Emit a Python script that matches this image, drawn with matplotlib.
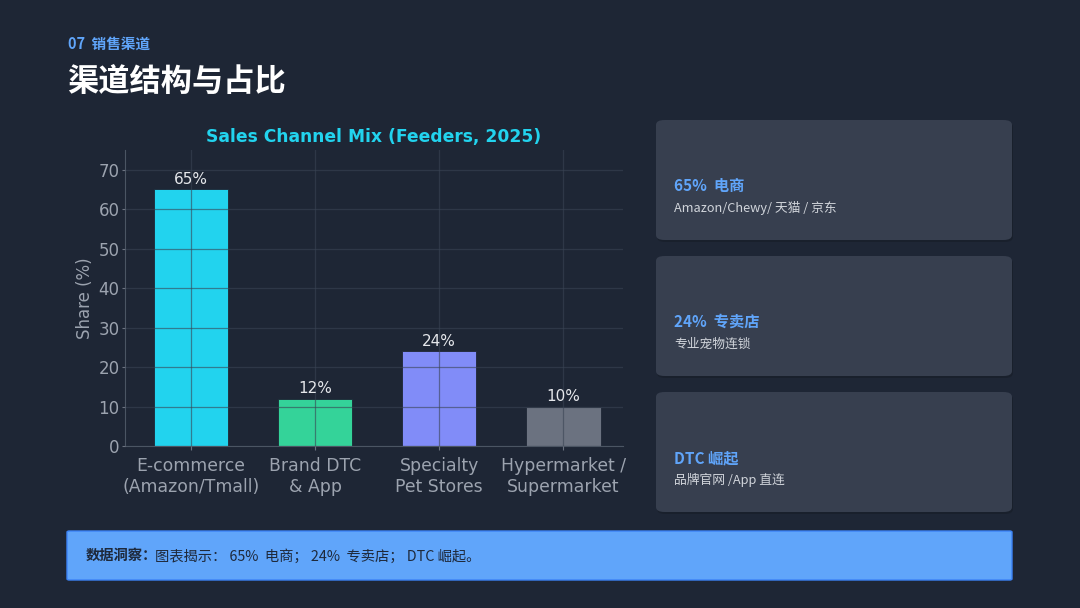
import matplotlib
matplotlib.use("Agg")
import matplotlib.pyplot as plt
from matplotlib.patches import FancyBboxPatch

plt.rcParams['font.family'] = ['DejaVu Sans', 'Noto Sans CJK SC']
CJK = ['Noto Sans CJK SC', 'DejaVu Sans']

channels = ['E-commerce\n(Amazon/Tmall)', 'Brand DTC\n& App', 'Specialty\nPet Stores', 'Hypermarket /\nSupermarket']
shares = [65, 12, 24, 10]
bar_colors = ['#22d3ee', '#34d399', '#818cf8', '#6b7280']

section = '07  销售渠道'
page_title = '渠道结构与占比'
chart_title = 'Sales Channel Mix (Feeders, 2025)'
card_heads = ['65%  电商', '24%  专卖店', 'DTC 崛起']
card_subs = ['Amazon/Chewy/ 天猫 / 京东', '专业宠物连锁', '品牌官网 /App 直连']
insight_head = '数据洞察：'
insight_body = '图表揭示： 65%  电商； 24%  专卖店； DTC 崛起。'

BG = '#1e2635'
W, H = 1080, 608
fig = plt.figure(figsize=(W / 100, H / 100), dpi=100, facecolor=BG)

def fx(px):
    return px / W

def fy(py):
    return 1 - py / H

# header
fig.text(fx(68), fy(44), section, color='#60a5fa', fontsize=10.5, fontweight='bold',
         family=CJK, va='center', ha='left')
fig.text(fx(67), fy(82), page_title, color='white', fontsize=22.5, fontweight='bold',
         family=CJK, va='center', ha='left')

# chart
ax = fig.add_axes([fx(125), fy(446), fx(623) - fx(125), fy(150) - fy(446)])
ax.set_facecolor(BG)
x = range(len(channels))
bars = ax.bar(x, shares, width=0.6, color=bar_colors, edgecolor='#1e2635', linewidth=0.6, zorder=1)
for b, v in zip(bars, shares):
    ax.text(b.get_x() + b.get_width() / 2, v + 0.6, f'{v}%', ha='center', va='bottom',
            color='#e5e7eb', fontsize=11, zorder=3)
ax.set_xticks(list(x))
ax.set_xticklabels(channels, fontsize=12.4, linespacing=1.2)
ax.set_ylim(0, 75)
ax.set_xlim(-0.53, 3.48)
ax.set_yticks(range(0, 71, 10))
ax.tick_params(axis='y', colors='#6b7280', labelcolor='#9ca3af', labelsize=12, length=2.5, pad=1.5)
ax.tick_params(axis='x', colors='#6b7280', labelcolor='#9ca3af', length=3, pad=5)
ax.set_ylabel('Share (%)', color='#9ca3af', fontsize=12, labelpad=3)
ax.set_title(chart_title, color='#22d3ee', fontsize=12.3, fontweight='bold', pad=6)
ax.grid(True, color='#3a4454', alpha=0.6, linewidth=0.9, zorder=2)
ax.set_axisbelow(False)
for s in ['top', 'right']:
    ax.spines[s].set_visible(False)
for s in ['left', 'bottom']:
    ax.spines[s].set_color('#4b5563')

# cards on the right
card_tops = [120, 256, 392]
for top, head, sub in zip(card_tops, card_heads, card_subs):
    shadow = FancyBboxPatch((fx(657), fy(top + 122)), fx(1013) - fx(657), fy(top + 2) - fy(top + 122),
                            boxstyle='round,pad=0,rounding_size=0.008', transform=fig.transFigure,
                            facecolor='#161c27', edgecolor='none', alpha=0.6)
    fig.patches.append(shadow)
    card = FancyBboxPatch((fx(656), fy(top + 120)), fx(1012) - fx(656), fy(top) - fy(top + 120),
                          boxstyle='round,pad=0,rounding_size=0.008', transform=fig.transFigure,
                          facecolor='#373f4f', edgecolor='none')
    fig.patches.append(card)
    fig.text(fx(674), fy(top + 66), head, color='#60a5fa', fontsize=11, fontweight='bold',
             family=CJK, va='center', ha='left')
    fig.text(fx(674), fy(top + 88), sub, color='#d1d5db', fontsize=9.2,
             family=CJK, va='center', ha='left')

# insight banner
banner = FancyBboxPatch((fx(67), fy(580)), fx(1012) - fx(67), fy(531) - fy(580),
                        boxstyle='round,pad=0,rounding_size=0.002', transform=fig.transFigure,
                        facecolor='#60a5fa', edgecolor='#3b82f6', linewidth=1)
fig.patches.append(banner)
t1 = fig.text(fx(86), fy(556), insight_head, color='#1e293b', fontsize=10.3, fontweight='bold',
              family=CJK, va='center', ha='left')
fig.canvas.draw()
bb = t1.get_window_extent(fig.canvas.get_renderer())
fig.text(bb.x1 / W - fx(2), fy(556), insight_body, color='#1e293b', fontsize=10.3,
         family=CJK, va='center', ha='left')

fig.savefig('out.png', dpi=100, facecolor=BG)
